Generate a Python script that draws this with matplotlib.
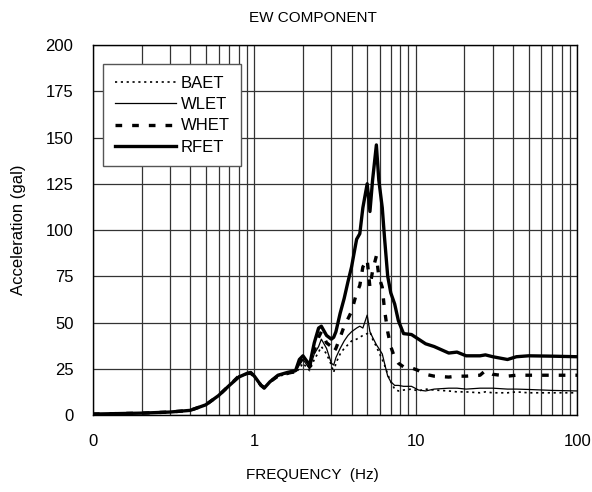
import matplotlib
matplotlib.use("Agg")
import matplotlib.pyplot as plt
from matplotlib.ticker import FixedLocator, FixedFormatter, NullFormatter, LogLocator

plt.rcParams['font.family'] = ['Liberation Sans', 'DejaVu Sans']

#frequency points (Hz) shared by all four records
freq = [0.1, 0.15, 0.2, 0.3, 0.4, 0.5, 0.6, 0.7, 0.8, 0.9, 0.95, 1.0, 1.1, 1.15, 1.25,
        1.4, 1.6, 1.8, 1.9, 2.0, 2.2, 2.35, 2.5, 2.6, 2.8, 3.0, 3.1, 3.2, 3.4, 3.6,
        3.8, 4.0, 4.3, 4.5, 4.7, 5.0, 5.2, 5.4, 5.7, 5.9, 6.2, 6.4, 6.7, 7.0, 7.4,
        7.8, 8.4, 9.4, 10.4, 11.5, 13, 16, 18, 20.5, 25, 27, 30, 37, 42, 50, 70, 100]

#acceleration (gal)
rfet = [0.5, 0.8, 1.0, 1.6, 2.5, 5.5, 10.5, 16, 20.5, 22.5, 23, 21, 16, 14.5, 18,
        21.5, 23, 24, 30, 32, 27, 39, 47, 48, 43, 41, 42, 45, 55, 63,
        72, 80, 95, 98, 112, 125, 110, 127, 146, 127, 112, 96, 75, 66, 60,
        51, 44, 43.5, 41, 38.5, 37, 33.5, 34, 32, 32, 32.5, 31.5, 30, 31.5, 32, 31.8, 31.5]
whet = [0.5, 0.8, 1.0, 1.6, 2.5, 5.5, 10.5, 16, 21, 22.5, 22.5, 21, 16, 15, 18,
        21, 22.5, 23.5, 28, 31, 26, 35, 42, 45, 39, 37, 34, 36, 42, 48,
        52, 56, 66, 70, 80, 84, 69, 78, 86, 75, 69, 57, 45, 37, 31,
        28, 26, 25.5, 24, 22, 21, 20.5, 21, 21, 21.5, 24, 22, 21, 21.5, 21.5, 21.5, 21.5]
wlet = [0.5, 0.8, 1.0, 1.6, 2.5, 5.5, 10.5, 16, 20.5, 22, 22.5, 21, 16, 15, 18,
        21, 22.5, 23.5, 27, 30, 25, 33, 37, 41, 36, 28, 27, 31, 36, 40,
        43, 45, 47, 48, 47, 54, 45, 42, 38, 36, 33, 28, 21, 18, 16,
        16, 15.5, 15.5, 13.5, 13, 14, 14.5, 14.5, 14, 14.5, 14.5, 14.5, 14, 14, 13.8, 13.3, 13]
baet = [0.5, 0.8, 1.0, 1.6, 2.5, 5.5, 10.5, 16, 21, 22, 22.5, 20.5, 16, 15, 17.5,
        21, 22, 23, 25, 28, 24, 30, 34, 37, 33, 27, 23, 28, 33, 36,
        38, 40, 41, 42, 43, 44, 45, 41, 37, 34, 30, 27, 22, 18, 14,
        13, 13.5, 14, 13, 14, 13.5, 13, 12.5, 12.5, 12, 12.5, 12, 12, 12.5, 12, 12, 12]

fig = plt.figure(figsize=(5.92, 4.92), dpi=100)
ax = fig.add_axes([0.157, 0.1565, 0.818, 0.752])

ax.plot(freq, baet, color='black', lw=1.2, linestyle=(0, (1.3, 2.2)), label='BAET')
ax.plot(freq, wlet, color='black', lw=0.9, label='WLET')
ax.plot(freq, whet, color='black', lw=2.4, linestyle=(0, (2.0, 3.0)), label='WHET')
ax.plot(freq, rfet, color='black', lw=2.4, label='RFET')

ax.set_xscale('log')
ax.set_xlim(0.1, 100)
ax.set_ylim(0, 200)
ax.xaxis.set_major_locator(FixedLocator([0.1, 1, 10, 100]))
ax.xaxis.set_major_formatter(FixedFormatter(['0', '1', '10', '100']))
ax.xaxis.set_minor_locator(LogLocator(base=10, subs=range(2, 10)))
ax.xaxis.set_minor_formatter(NullFormatter())
ax.set_yticks(range(0, 201, 25))

#grid on every log minor line, like the original
ax.grid(True, which='both', axis='x', color='#333333', lw=0.9)
ax.grid(True, which='major', axis='y', color='#333333', lw=0.9)
ax.set_axisbelow(True)
ax.tick_params(which='both', length=0, labelsize=12, pad=14)
for s in ax.spines.values():
    s.set_color('black')
    s.set_linewidth(1.0)

leg = ax.legend(loc='upper left', bbox_to_anchor=(0.0207, 0.9486), borderaxespad=0,
                fontsize=12, handlelength=3.7, handletextpad=0.25, labelspacing=0.38,
                borderpad=0.7, fancybox=False, framealpha=1)
leg.get_frame().set_edgecolor('#555555')
leg.get_frame().set_linewidth(1.0)

fig.text(313 / 592, 1 - 18 / 492, 'EW COMPONENT', ha='center', va='center', fontsize=11)
fig.text(312 / 592, 1 - 475 / 492, 'FREQUENCY  (Hz)', ha='center', va='center', fontsize=11)
fig.text(19 / 592, 1 - 230 / 492, 'Acceleration (gal)', ha='center', va='center',
         rotation=90, fontsize=12)

fig.savefig('out.png', dpi=100)
